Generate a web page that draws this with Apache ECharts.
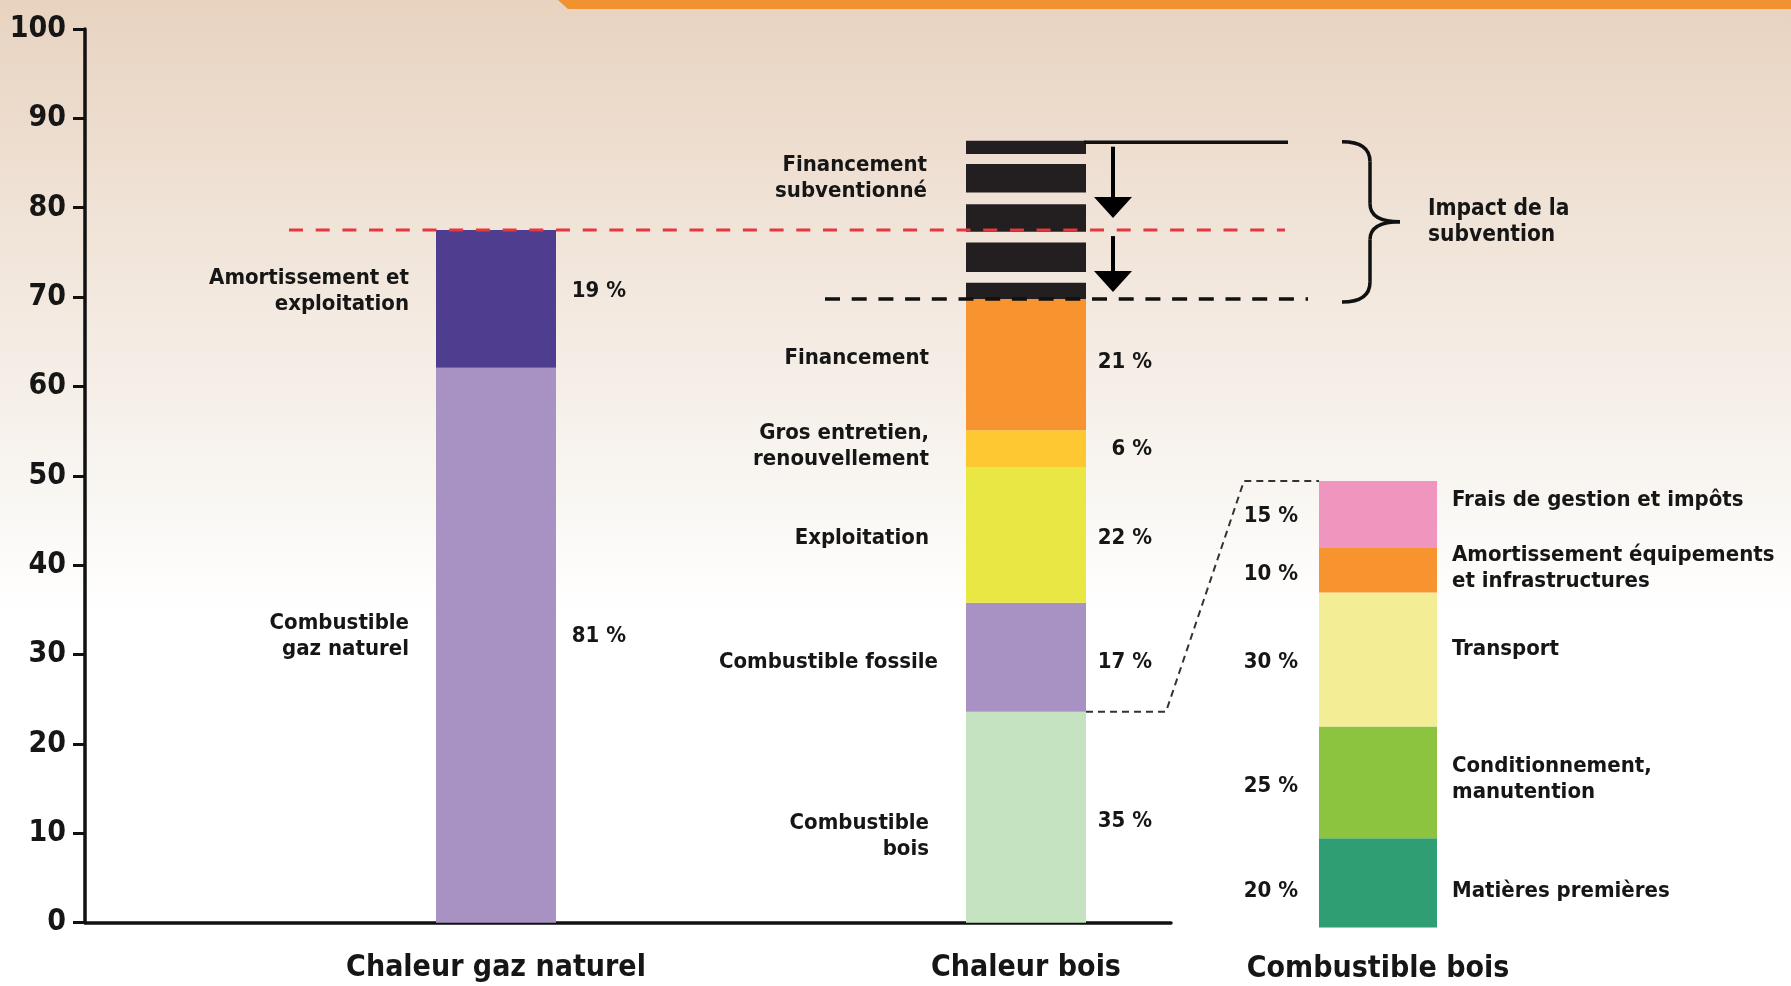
<!DOCTYPE html>
<html><head><meta charset="utf-8">
<script src="https://cdn.jsdelivr.net/npm/echarts@6/dist/echarts.min.js"></script>
<style>html,body{margin:0;padding:0;background:#fff;} #c{width:1791px;height:986px;}</style>
</head><body><div id="c"></div>
<script>
// ---------- DATA ----------
const columns = ['Chaleur gaz naturel', 'Chaleur bois'];
const breakdownColumn = ['Combustible bois'];

const gasNames = ['Combustible\ngaz naturel', 'Amortissement et\nexploitation'];
const gasValues = [62.1, 15.4];
const gasPercents = ['81 %', '19 %'];

const woodNames = ['Combustible\nbois', 'Combustible fossile', 'Exploitation', 'Gros entretien,\nrenouvellement', 'Financement'];
const woodValues = [23.6, 12.2, 15.2, 4.1, 14.7];
const woodPercents = ['35 %', '17 %', '22 %', '6 %', '21 %'];

// subsidised financing, drawn as alternating bands (filled, gap, filled, ...)
const subsidyName = 'Financement\nsubventionné';
const subsidyBands = [1.8, 1.2, 3.3, 1.2, 3.1, 1.3, 3.2, 1.1, 1.5];

const fuelNames = ['Matières premières', 'Conditionnement,\nmanutention', 'Transport', 'Amortissement équipements\net infrastructures', 'Frais de gestion et impôts'];
const fuelValues = [20, 25, 30, 10, 15];
const fuelPercents = ['20 %', '25 %', '30 %', '10 %', '15 %'];

const impactText = 'Impact de la\nsubvention';

// ---------- STYLE ----------
const FONT = "'Liberation Sans Narrow','DejaVu Sans Condensed','Roboto Condensed','Liberation Sans',sans-serif";
const INK = '#161616';
const gasColors = ['#a891c3', '#4f3d8f'];
const woodColors = ['#c5e2c1', '#a891c3', '#e9e744', '#fec832', '#f7942f'];
const stripeColor = '#231f20';
const fuelColors = ['#2f9e72', '#8dc43f', '#f3ee95', '#f7942f', '#f096be'];
const gasNameOffsets = [[0, -9], [0, -7.5]];
const gasPctOffsets = [[0, -8.5], [0, -8]];
const woodNameOffsets = [[0, 19], [0, 5.5], [0, 3], [0, -2], [0, -6.5]];
const woodPctOffsets = [[0, 4.5], [0, 5.5], [0, 3], [0, 1], [0, -2]];
const fuelNameOffsets = [[0, 8], [0, -3.5], [0, -10.5], [0, -2], [0, -14.5]];
const fuelPctOffsets = [[0, 8], [0, 3.5], [0, 3], [0, 4], [0, 2]];
const BW = 120;

const lbl = (extra) => Object.assign({show: true, fontFamily: FONT, fontWeight: 'bold', fontSize: 22, lineHeight: 26, color: INK}, extra);

const series = [];
// gas column
gasValues.forEach((v, i) => {
  series.push({type: 'bar', xAxisIndex: 1, yAxisIndex: 1, stack: 'cost', barWidth: BW, barGap: '-100%',
    data: [v, '-'], itemStyle: {color: gasColors[i]},
    label: lbl({position: 'left', distance: 27, formatter: gasNames[i], offset: gasNameOffsets[i]})});
  series.push({type: 'bar', xAxisIndex: 1, yAxisIndex: 1, stack: 'pct', barWidth: BW, barGap: '-100%', silent: true,
    data: [v, '-'], itemStyle: {color: 'rgba(0,0,0,0)'},
    label: lbl({position: 'right', distance: 70, align: 'right', formatter: gasPercents[i], offset: gasPctOffsets[i]})});
});
// wood heat column
woodValues.forEach((v, i) => {
  series.push({type: 'bar', xAxisIndex: 1, yAxisIndex: 1, stack: 'cost', barWidth: BW, barGap: '-100%',
    data: ['-', v], itemStyle: {color: woodColors[i]},
    label: lbl({position: 'left', distance: i === 1 ? 28 : 37, formatter: woodNames[i], offset: woodNameOffsets[i]})});
  series.push({type: 'bar', xAxisIndex: 1, yAxisIndex: 1, stack: 'pct', barWidth: BW, barGap: '-100%', silent: true,
    data: ['-', v], itemStyle: {color: 'rgba(0,0,0,0)'},
    label: lbl({position: 'right', distance: 66, align: 'right', formatter: woodPercents[i], offset: woodPctOffsets[i]})});
});
subsidyBands.forEach((v, i) => {
  series.push({type: 'bar', xAxisIndex: 1, yAxisIndex: 1, stack: 'cost', barWidth: BW, barGap: '-100%',
    data: ['-', v], itemStyle: {color: i % 2 === 0 ? stripeColor : 'rgba(0,0,0,0)'},
    label: lbl({show: i === 6, position: 'left', distance: 39, formatter: subsidyName, offset: [0, 0]})});
});
// wood fuel breakdown
fuelValues.forEach((v, i) => {
  series.push({type: 'bar', xAxisIndex: 2, yAxisIndex: 2, stack: 'fuel', barWidth: 118, barGap: '-100%',
    data: [v], itemStyle: {color: fuelColors[i]},
    label: lbl({position: 'right', distance: 15, formatter: fuelNames[i], offset: fuelNameOffsets[i]})});
  series.push({type: 'bar', xAxisIndex: 2, yAxisIndex: 2, stack: 'fuelPct', barWidth: 118, barGap: '-100%', silent: true,
    data: [v], itemStyle: {color: 'rgba(0,0,0,0)'},
    label: lbl({position: 'left', distance: 21, formatter: fuelPercents[i], offset: fuelPctOffsets[i]})});
});

const GRID_TOP = 29, GRID_BOTTOM = 63.3;
const option = {
  animation: false,
  backgroundColor: {type: 'linear', x: 0, y: 0, x2: 0, y2: 1, colorStops: [
    {offset: 0, color: '#e8d3c0'}, {offset: 0.25, color: '#f1e5da'}, {offset: 0.5, color: '#f9f6f2'}, {offset: 0.62, color: '#ffffff'}, {offset: 1, color: '#ffffff'}]},
  grid: [
    {left: 85, right: 620, top: GRID_TOP, bottom: GRID_BOTTOM},
    {left: 231, right: 500, top: GRID_TOP, bottom: GRID_BOTTOM},
    {left: 1278, right: 313, top: 480.9, bottom: 58.5}
  ],
  xAxis: [
    {gridIndex: 0, type: 'category', data: [''], axisLine: {lineStyle: {color: '#111', width: 3.5}}, axisTick: {show: false}, axisLabel: {show: false}},
    {gridIndex: 1, type: 'category', data: columns, axisLine: {show: false}, axisTick: {show: false},
      axisLabel: {margin: 31, fontFamily: FONT, fontWeight: 'bold', fontSize: 30, color: INK}},
    {gridIndex: 2, type: 'category', data: breakdownColumn, axisLine: {show: false}, axisTick: {show: false},
      axisLabel: {margin: 27, fontFamily: FONT, fontWeight: 'bold', fontSize: 30, color: INK}}
  ],
  yAxis: [
    {gridIndex: 0, type: 'value', min: 0, max: 100, interval: 10,
      axisLine: {show: true, lineStyle: {color: '#111', width: 3.5}},
      axisTick: {show: true, length: 12, lineStyle: {color: '#111', width: 3}},
      splitLine: {show: false},
      axisLabel: {margin: 19, fontFamily: FONT, fontWeight: 'bold', fontSize: 30, color: INK}},
    {gridIndex: 1, type: 'value', min: 0, max: 100, show: false},
    {gridIndex: 2, type: 'value', min: 0, max: 100, show: false}
  ],
  series: series
};

const chart = echarts.init(document.getElementById('c'), null, {renderer: 'canvas'});
chart.setOption(option);

// ---------- annotations positioned from the axes ----------
const sum = a => a.reduce((s, v) => s + v, 0);
const px = (grid, xi, y) => chart.convertToPixel({gridIndex: grid}, [xi, y]);
const gasTop = sum(gasValues);
const woodTop = sum(woodValues);
const allTop = woodTop + sum(subsidyBands);
const gasC = px(1, 0, 0)[0];
const woodC = px(1, 1, 0)[0];
const woodR = woodC + BW / 2;
const yRed = px(1, 1, gasTop)[1];
const yWood = px(1, 1, woodTop)[1];
const yAll = px(1, 1, allTop)[1];
const yFuelBase = px(1, 1, woodValues[0])[1];
const fuelC = px(2, 0, 0)[0];
const fuelL = fuelC - 59;
const yFuelTop = px(2, 0, sum(fuelValues))[1];

const ax = woodC + 87;
function arrow(y0, y1) {
  return {type: 'group', silent: true, children: [
    {type: 'line', shape: {x1: ax, y1: y0, x2: ax, y2: y1 - 18}, style: {stroke: '#000', lineWidth: 4}},
    {type: 'polygon', shape: {points: [[ax - 19, y1 - 21], [ax + 19, y1 - 21], [ax, y1]]}, style: {fill: '#000'}}
  ]};
}
const bx0 = woodC + 316, bx1 = woodC + 344, bx2 = woodC + 374;
const bTop = yAll + 1, bBot = yWood + 3, bMid = (bTop + bBot) / 2;
const braceStyle = {stroke: '#111', lineWidth: 3.5, fill: null};
const brace = [
  {type: 'bezierCurve', shape: {x1: bx0, y1: bTop, cpx1: bx1, cpy1: bTop, x2: bx1, y2: bTop + 20}, style: braceStyle},
  {type: 'line', shape: {x1: bx1, y1: bTop + 20, x2: bx1, y2: bMid - 18}, style: braceStyle},
  {type: 'bezierCurve', shape: {x1: bx1, y1: bMid - 18, cpx1: bx1, cpy1: bMid, x2: bx2, y2: bMid}, style: braceStyle},
  {type: 'bezierCurve', shape: {x1: bx2, y1: bMid, cpx1: bx1, cpy1: bMid, x2: bx1, y2: bMid + 18}, style: braceStyle},
  {type: 'line', shape: {x1: bx1, y1: bMid + 18, x2: bx1, y2: bBot - 20}, style: braceStyle},
  {type: 'bezierCurve', shape: {x1: bx1, y1: bBot - 20, cpx1: bx1, cpy1: bBot, x2: bx0, y2: bBot}, style: braceStyle}
];

chart.setOption({graphic: [
  {type: 'polygon', silent: true, shape: {points: [[558, 0], [1791, 0], [1791, 9], [568, 9]]}, style: {fill: '#f0922f'}},
  {type: 'line', silent: true, z: 10, shape: {x1: gasC - 207, y1: yRed, x2: woodC + 259, y2: yRed}, style: {stroke: '#e4373e', lineWidth: 3, lineDash: [14, 12.7]}},
  {type: 'line', silent: true, z: 10, shape: {x1: woodC - 201, y1: yWood, x2: woodC + 282, y2: yWood}, style: {stroke: '#111', lineWidth: 3.5, lineDash: [15, 11.7]}},
  {type: 'line', silent: true, z: 10, shape: {x1: woodR - 2, y1: yAll + 1.5, x2: woodC + 262, y2: yAll + 1.5}, style: {stroke: '#111', lineWidth: 3.5}},
  arrow(yAll + 6, yRed - 12),
  arrow(yRed + 6, yWood - 7),
  ...brace.map(b => Object.assign({silent: true}, b)),
  {type: 'text', silent: true, x: woodC + 402, y: bMid, style: {text: impactText, font: 'bold 22.5px ' + FONT, lineHeight: 26, fill: INK, verticalAlign: 'middle', align: 'left'}},
  {type: 'polyline', silent: true, z: 10, shape: {points: [[woodR, yFuelBase], [woodR + 80, yFuelBase], [fuelL - 75, yFuelTop], [fuelL, yFuelTop]]},
    style: {stroke: '#333', lineWidth: 2, lineDash: [7, 5], fill: null}}
]});
</script>
</body></html>
